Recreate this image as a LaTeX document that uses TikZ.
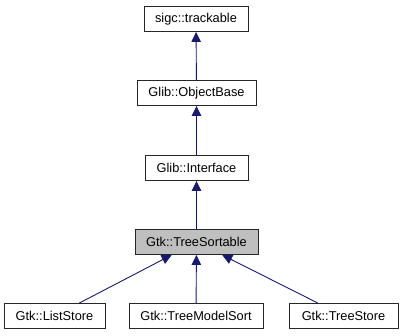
\documentclass[tikz,border=0pt]{standalone}
\usepackage{fontspec}
\setmainfont{Liberation Sans}
\usepackage{tikz}
\usetikzlibrary{arrows.meta}

\definecolor{edgeblue}{RGB}{25,25,112}

\begin{document}
\begin{tikzpicture}[x=1pt, y=-1pt,
    every node/.style={draw=black!85, fill=white, line width=0.9pt, minimum height=25pt,
      inner sep=0pt, font=\fontsize{12.8}{15}\selectfont},
    current/.style={fill=black!25},
    inherit/.style={edgeblue, line width=0.9pt, -{Triangle[length=10pt,width=9.5pt]}}]
    \useasboundingbox (0,0) rectangle (401,336);
    \node[minimum width=104pt] (trackable) at (196,19) {sigc::trackable};
    \node[minimum width=119pt] (objbase) at (196.5,93) {Glib::ObjectBase};
    \node[minimum width=103pt] (iface) at (196.5,168) {Glib::Interface};
    \node[minimum width=123pt, current] (sortable) at (196.5,242) {Gtk::TreeSortable};
    \node[minimum width=101pt] (liststore) at (54.5,316) {Gtk::ListStore};
    \node[minimum width=134pt] (modelsort) at (196,316) {Gtk::TreeModelSort};
    \node[minimum width=109pt] (treestore) at (343.5,316) {Gtk::TreeStore};

    \draw[inherit] (objbase) -- (trackable);
    \draw[inherit] (iface) -- (objbase);
    \draw[inherit] (sortable) -- (iface);
    \draw[inherit] (liststore) -- (sortable);
    \draw[inherit] (modelsort) -- (sortable);
    \draw[inherit] (treestore) -- (sortable);
\end{tikzpicture}
\end{document}
